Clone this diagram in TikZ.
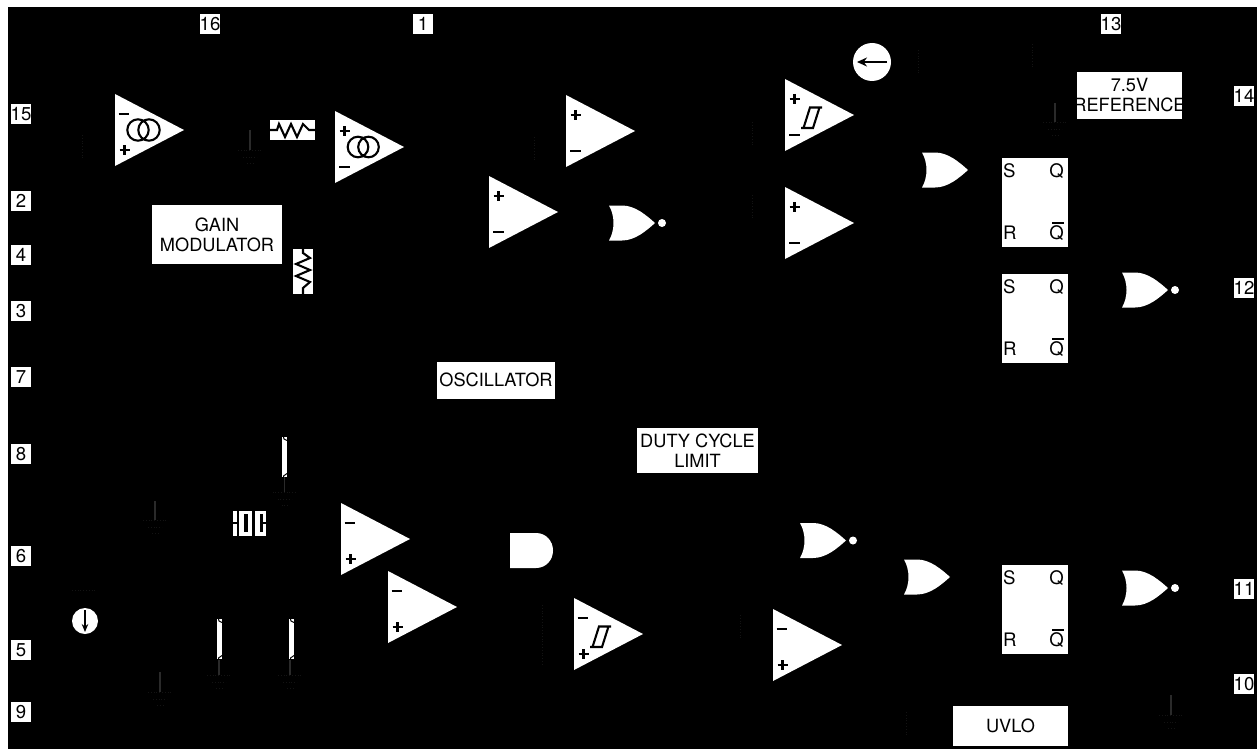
\documentclass[tikz,border=0pt]{standalone}
\usepackage{fontspec}
\setmainfont{TeX Gyre Heros}
\usetikzlibrary{arrows.meta}
\definecolor{stubgray}{HTML}{2A2A2A}
\definecolor{faintgray}{HTML}{131313}
\tikzset{
  labelfont/.style={font=\fontsize{18.2}{20}\selectfont},
  pinfont/.style={font=\fontsize{18.6}{20}\selectfont},
  pinbox/.style={fill=white,text=black,minimum size=20pt,inner sep=0pt,pinfont},
  blockbox/.style={fill=white,text=black,inner sep=0pt,align=center,labelfont},
  letter/.style={text=black,inner sep=0pt,pinfont},
  whiteshape/.style={fill=white,draw=none},
  sign/.style={draw=black,line width=2.2pt},
  glyph/.style={draw=black,line width=2.1pt},
  stub/.style={draw=stubgray,line width=1.2pt},
  faint/.style={draw=faintgray,line width=0.8pt,dotted}
}
\newcommand{\amptri}[2]{\fill[whiteshape] (#1,#2-36) -- (#1+69,#2) -- (#1,#2+36) -- cycle;}
\newcommand{\plusminus}[2]{% plus above
  \draw[sign] (#1+4.5,#2-16) -- (#1+14.5,#2-16) (#1+9.5,#2-21) -- (#1+9.5,#2-11);
  \draw[sign] (#1+4,#2+20) -- (#1+15,#2+20);}
\newcommand{\minusplus}[2]{% minus above
  \draw[sign] (#1+3.5,#2-16) -- (#1+14,#2-16);
  \draw[sign] (#1+4.5,#2+20) -- (#1+14.5,#2+20) (#1+9.5,#2+15) -- (#1+9.5,#2+25);}
\newcommand{\schmitt}[2]{%
  \draw[glyph] (#1+37,#2-7.5) -- (#1+25,#2-7.5) -- (#1+18.5,#2+13) -- (#1+16,#2+13) -- (#1+28,#2+13) -- (#1+34.5,#2-7.5);}
\newcommand{\orgate}[2]{%
  \fill[whiteshape] (#1,#2-17.5) -- (#1+13,#2-17.5) .. controls (#1+26,#2-17.5) and (#1+37,#2-8) .. (#1+46,#2)
    .. controls (#1+37,#2+8) and (#1+26,#2+17.5) .. (#1+13,#2+17.5) -- (#1,#2+17.5)
    .. controls (#1+6,#2+7) and (#1+6,#2-7) .. cycle;}
\newcommand{\norgate}[3]{% name, x, y
  \orgate{#2}{#3}
  \node[whiteshape,circle,minimum size=8pt,inner sep=0pt] (#1) at (#2+53,#3) {};}
\newcommand{\srbox}[2]{% name, top y
  \node[whiteshape,minimum width=66pt,minimum height=89pt,inner sep=0pt] (#1) at (1035,#2+44.5) {};
  \node[letter,anchor=base west] (#1s) at (1003,#2+19) {S};
  \node[letter,anchor=base west] (#1r) at (1003,#2+81) {R};
  \node[letter,anchor=base east] (#1q) at (1064,#2+19) {Q};
  \node[letter,anchor=base east] (#1n) at (1064,#2+81) {Q};
  \draw[draw=black,line width=1.2pt] (1052,#2+65) -- (1063.5,#2+65);}
\newcommand{\slimres}[3]{% x, y0, y1
  \fill[whiteshape] (#1,#2) rectangle (#1+5,#3);
  \draw[draw=black,line width=1pt] (#1+1.5,#2) -- (#1+2,#2+2) -- (#1+5,#2+3.5);
  \draw[draw=black,line width=1pt] (#1+5,#3-3.5) -- (#1+1.5,#3-1) -- (#1+1.5,#3);}
\newcommand{\gnd}[3]{% x, y0, y1
  \draw[stub] (#1,#2) -- (#1,#3);
  \draw[faint] (#1-12,#3) -- (#1+12,#3) (#1-7,#3+7) -- (#1+7,#3+7) (#1-3,#3+13) -- (#1+3,#3+13);}
\begin{document}
\begin{tikzpicture}[x=1pt,y=-1pt]
\useasboundingbox (0,0) rectangle (1257,749);
\fill[white] (0,0) rectangle (1257,749);
\fill[black] (8,7) rectangle (1257,749);

% pins
\node[pinbox] (p16) at (210,24) {16};
\node[pinbox] (p1) at (423,24) {1};
\node[pinbox] (p13) at (1111,24) {13};
\node[pinbox] (p14) at (1244,96) {14};
\node[pinbox] (p15) at (21,114) {15};
\node[pinbox] (p2) at (21,201) {2};
\node[pinbox] (p4) at (21,255) {4};
\node[pinbox] (p3) at (21,311) {3};
\node[pinbox] (p7) at (21,377) {7};
\node[pinbox] (p8) at (21,454) {8};
\node[pinbox] (p6) at (21,556) {6};
\node[pinbox] (p5) at (21,650) {5};
\node[pinbox] (p9) at (21,712) {9};
\node[pinbox] (p12) at (1244,288) {12};
\node[pinbox] (p11) at (1244,589) {11};
\node[pinbox] (p10) at (1244,684) {10};

% blocks
\node[blockbox,minimum width=130pt,minimum height=59pt] (gain) at (217,234.5) {GAIN\\MODULATOR};
\node[blockbox,minimum width=118pt,minimum height=37pt] (osc) at (496,380) {OSCILLATOR};
\node[blockbox,minimum width=121pt,minimum height=45pt] (duty) at (697.5,450.5) {DUTY CYCLE\\LIMIT};
\node[blockbox,minimum width=105pt,minimum height=47pt] (ref) at (1129.5,95.5) {7.5V\\\makebox[105pt]{REFERENCE}};
\node[blockbox,minimum width=115pt,minimum height=40pt] (uvlo) at (1010.5,726) {UVLO};

% amplifiers
\amptri{115}{130} \minusplus{115}{130}
\draw[glyph] (138,130) circle (10.7) (149,130) circle (10.7);
\amptri{335}{147} \plusminus{335}{147}
\draw[glyph] (358,147) circle (10.3) (368.5,147) circle (10.3);
\amptri{566}{131} \plusminus{566}{131}
\amptri{489}{212} \plusminus{489}{212}
\amptri{785}{115} \plusminus{785}{115} \schmitt{785}{115}
\amptri{785}{223} \plusminus{785}{223}
\amptri{341}{539} \minusplus{341}{539}
\amptri{388}{607} \minusplus{388}{607}
\amptri{574}{634} \minusplus{574}{634} \schmitt{574}{634}
\amptri{773}{645} \minusplus{773}{645}

% gates
\norgate{nora}{609}{223}
\orgate{922}{170}
\norgate{norb}{1122}{290}
\norgate{norc}{800}{540.5}
\orgate{904}{577}
\norgate{nord}{1122}{588}
\fill[whiteshape] (510,533) -- (536,533) .. controls (546,533) and (553,541) .. (553,550.5)
  .. controls (553,560) and (546,568) .. (536,568) -- (510,568) -- cycle;

% latches
\srbox{sra}{158}
\srbox{srb}{274}
\srbox{src}{565}

% current sources
\node[whiteshape,circle,minimum size=38pt,inner sep=0pt] (srctop) at (872,62) {};
\draw[draw=black,line width=1.4pt,-{Stealth[length=10pt,width=9pt]}] ([xshift=15pt]srctop.center) -- ([xshift=-15pt]srctop.center);
\node[whiteshape,circle,minimum size=26pt,inner sep=0pt] (srcbot) at (85,621) {};
\draw[draw=black,line width=1.4pt,-{Stealth[length=8pt,width=6.5pt]}] ([yshift=11pt]srcbot.center) -- ([yshift=-11pt]srcbot.center);

% resistors
\fill[whiteshape] (270,120) rectangle (315,140);
\draw[glyph] (270,130) -- (277,130) -- (279,124) -- (285,137) -- (291,124) -- (297,137) -- (303,124) -- (309,130) -- (315,130);
\fill[whiteshape] (293,249) rectangle (313,294);
\draw[glyph] (303,249) -- (303,253) -- (310,258) -- (296,264) -- (310,270) -- (296,276) -- (310,282) -- (303,288) -- (303,294);
\slimres{282}{437}{477}
\slimres{217}{619}{659}
\slimres{289}{619}{659}

% capacitors
\fill[whiteshape] (233,511) rectangle (266,536);
\fill[black] (233,522) rectangle (236.7,524);
\fill[black] (236.7,511) rectangle (239.3,536);
\fill[black] (244.3,513.5) rectangle (247.7,532);
\fill[black] (252.3,511) rectangle (255,536);
\fill[black] (260,513.5) rectangle (263.3,532);
\fill[black] (263.3,522) rectangle (266,524);

% ground stubs
\gnd{250}{130}{150}
\gnd{155}{501}{520}
\gnd{160}{672}{692}
\gnd{219}{660}{675}
\gnd{290}{660}{675}
\gnd{284.5}{477}{492}
\gnd{1055}{103}{122}
\gnd{1171}{695}{715}

% barely visible traces
\draw[faint] (82,135) -- (82,160) (534,137) -- (534,162) (752,122) -- (752,147) (752,195) -- (752,220)
  (918,50) -- (918,75) (1032,44) -- (1032,69) (542,605) -- (542,665) (740,615) -- (740,640) (906,712) -- (906,737)
  (72,590) -- (97,590);
\end{tikzpicture}
\end{document}
